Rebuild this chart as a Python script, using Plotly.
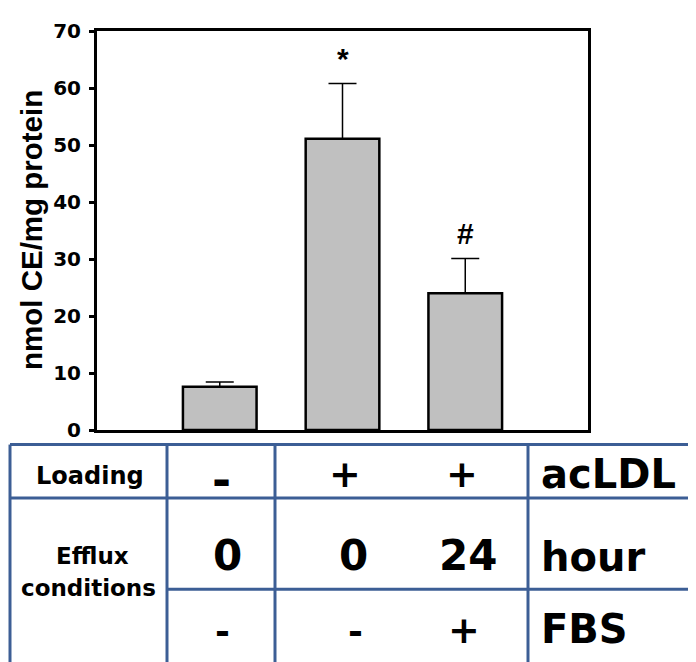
import plotly.graph_objects as go

# ---- data ----
groups = [1, 2, 3]
values = [7.6, 51.1, 24.0]
errors = [0.8, 9.7, 6.1]
marks = ["", "*", "#"]
mark_y = [None, 65.2, 34.4]

row_loading = ["-", "+", "+"]
row_hours = ["0", "0", "24"]
row_fbs = ["-", "-", "+"]
row_units = ["acLDL", "hour", "FBS"]

OFF = 8  # page body margin offset
W, H = 696 - OFF, 662 - OFF
L, R, T, B = 97 - OFF, 588 - OFF, 19 - OFF, 430 - OFF


def px(x):
    return (x - OFF - L) / (R - L)


def py(y):
    return (B - (y - OFF)) / (B - T)


fig = go.Figure()
fig.add_trace(go.Bar(
    x=groups, y=values, width=0.6,
    marker=dict(color="#C0C0C0", line=dict(color="black", width=2.5)),
    error_y=dict(type="data", symmetric=False, array=errors,
                 arrayminus=[0] * len(errors), color="black",
                 thickness=1.5, width=14),
    showlegend=False,
))

DJ = dict(family="DejaVu Sans", color="black", weight="bold")
LIB = dict(family="Liberation Sans", color="black", weight="bold")

ann = []
for g, m, my in zip(groups, marks, mark_y):
    if m:
        ann.append(dict(x=g, y=my, xref="x", yref="y", text=m, showarrow=False,
                        font=dict(size=30, **LIB),
                        xanchor="center", yanchor="middle"))

# y-axis title
ann.append(dict(x=px(31), y=py(224), xref="paper", yref="paper",
                text="nmol CE/mg protein", textangle=-90, showarrow=False,
                font=dict(size=29.5, **LIB), xanchor="center", yanchor="middle"))


def t(x, y, text, size, anchor="center"):
    ann.append(dict(x=px(x), y=py(y), xref="paper", yref="paper", text=text,
                    showarrow=False, font=dict(size=size, **DJ),
                    xanchor=anchor, yanchor="middle"))


t(90, 477, "Loading", 24)
t(92, 560, "Efflux", 23)
t(88, 593, "conditions", 23)

col_x1 = [221, 345, 462]
col_x2 = [227, 353, 468]
col_x3 = [222, 355, 464]
for x, s in zip(col_x1, row_loading):
    if s == "-":
        t(x, 481, s, 46)
    else:
        t(x, 475, s, 38)
for x, s in zip(col_x2, row_hours):
    t(x, 559, s, 42)
for x, s in zip(col_x3, row_fbs):
    if s == "-":
        t(x, 638, s, 36)
    else:
        t(x, 636, s, 38)
for y, s in zip([475, 561, 635], row_units):
    t(539, y, s, 40, anchor="left")

# table lines
BL = "#3C5E95"
shapes = []


def ln(x0, y0, x1, y1):
    shapes.append(dict(type="line", xref="paper", yref="paper",
                       x0=px(x0), y0=py(y0), x1=px(x1), y1=py(y1),
                       line=dict(color=BL, width=3)))


ln(10, 445, 700, 445)
ln(10, 500, 700, 500)
ln(167, 594, 700, 594)
for x in [10, 167, 275, 528]:
    ln(x, 445, x, 670)

fig.update_layout(
    width=W, height=H,
    margin=dict(l=L, r=W - R, t=T, b=H - B),
    plot_bgcolor="white", paper_bgcolor="white",
    annotations=ann, shapes=shapes,
    xaxis=dict(range=[0, 4], showticklabels=False, ticks="", showgrid=False,
               zeroline=False, showline=True, linecolor="black", linewidth=3,
               mirror=True, fixedrange=True),
    yaxis=dict(range=[0, 70], dtick=10, ticks="outside", ticklen=5,
               tickwidth=2.5, tickcolor="black", showgrid=False, zeroline=False,
               showline=True, linecolor="black", linewidth=3, mirror=True,
               tickfont=dict(size=20, **DJ), ticklabelstandoff=4,
               fixedrange=True),
)

fig.write_html("out.html")
